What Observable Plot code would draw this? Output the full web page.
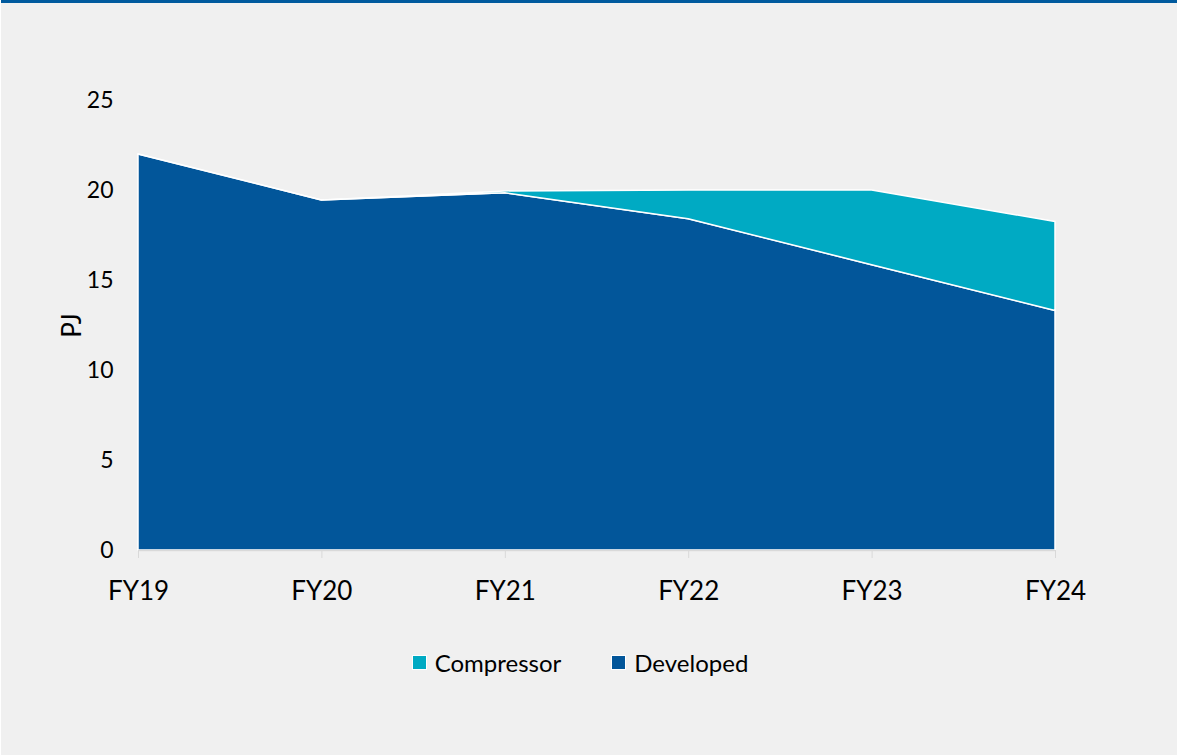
<!DOCTYPE html>
<html>
<head>
<meta charset="utf-8">
<script src="https://cdn.jsdelivr.net/npm/d3@7"></script>
<script src="https://cdn.jsdelivr.net/npm/@observablehq/plot@0.6"></script>
<style>
  html, body { margin: 0; padding: 0; background: #ffffff; }
  #page { width: 1189px; height: 755px; position: relative; overflow: hidden; font-family: Lato, "Open Sans", sans-serif; }
  #frame { position: absolute; left: 1px; top: 0; width: 1176px; height: 755px; box-sizing: border-box; border-top: 3px solid #005a9e; background: #f0f0f0; }
  #chart { position: absolute; left: 0; top: 0; }
  #legend { position: absolute; top: 648px; left: 0; width: 1160px; display: flex; justify-content: center; gap: 50px; font-size: 24px; color: #000; }
  .item { display: flex; align-items: center; gap: 8px; }
  .sw { width: 13px; height: 13px; border: 1px solid #fff; }
</style>
</head>
<body>
<div id="page">
  <div id="frame"></div>
  <div id="chart"></div>
  <div id="legend"></div>
</div>
<script>
const years = ["FY19", "FY20", "FY21", "FY22", "FY23", "FY24"];
const developed = [22.0, 19.45, 19.85, 18.4, 15.85, 13.3];
const compressor = [0, 0, 0.1, 1.6, 4.15, 4.95];
const seriesNames = ["Compressor", "Developed"];
const seriesColors = ["#00aac3", "#02569a"];
const yTicks = [0, 5, 10, 15, 20, 25];

const rows = [];
years.forEach((yr, i) => rows.push({i, year: yr, series: "Developed", value: developed[i]}));
years.forEach((yr, i) => rows.push({i, year: yr, series: "Compressor", value: compressor[i]}));

const plot = Plot.plot({
  width: 1189,
  height: 620,
  marginLeft: 138,
  marginRight: 134,
  marginTop: 100,
  marginBottom: 70,
  style: { background: "transparent", fontFamily: "Lato, 'Open Sans', sans-serif", fontSize: "22px", color: "#000" },
  x: { type: "linear", domain: [0, years.length - 1] },
  y: { domain: [0, 25] },
  color: { domain: seriesNames, range: seriesColors },
  marks: [
    Plot.areaY(rows, { x: "i", y: "value", z: "series", fill: "series", stroke: "#ffffff", strokeWidth: 1.5, curve: "linear" }),
    Plot.ruleY([0], { stroke: "#d9d9d9", strokeWidth: 1.5 }),
    Plot.axisX({ ticks: years.map((d, i) => i), tickFormat: i => years[i], tickSize: 8, tickPadding: 23, stroke: "#d9d9d9", label: null }),
    Plot.axisY({ ticks: yTicks, tickSize: 0, tickPadding: 25, label: "PJ", labelAnchor: "center", labelArrow: false, labelOffset: 76 })
  ]
});
document.getElementById("chart").appendChild(plot);
plot.querySelectorAll("text").forEach(t => { t.style.fill = "#000"; });
plot.querySelectorAll('[aria-label="x-axis tick label"]').forEach(g => { g.setAttribute("font-size", "26"); g.style.fontSize = "26px"; });
plot.querySelectorAll('[aria-label="y-axis tick label"]').forEach(g => { g.setAttribute("font-size", "23"); g.style.fontSize = "23px"; });
plot.querySelectorAll('[aria-label="y-axis label"]').forEach(g => { g.setAttribute("font-size", "26"); g.style.fontSize = "26px"; });

const legend = document.getElementById("legend");
seriesNames.forEach((name, k) => {
  const item = document.createElement("div");
  item.className = "item";
  const sw = document.createElement("div");
  sw.className = "sw";
  sw.style.background = seriesColors[k];
  const label = document.createElement("span");
  label.textContent = name;
  item.appendChild(sw);
  item.appendChild(label);
  legend.appendChild(item);
});
</script>
</body>
</html>
